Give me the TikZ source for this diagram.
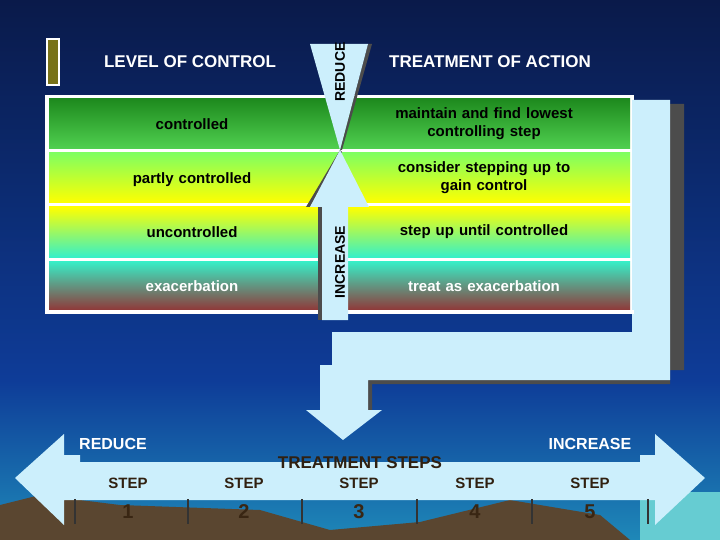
\documentclass[tikz,border=0pt]{standalone}
\usepackage{fontspec}
\setmainfont{Liberation Sans}
\begin{document}
\begin{tikzpicture}[x=1pt,y=-1pt,
  hdr/.style={text=white,font=\bfseries\fontsize{17}{19}\selectfont},
  cell/.style={font=\bfseries\fontsize{15}{18}\selectfont,align=center,text width=260},
  stp/.style={text=black!75!brown,font=\bfseries\fontsize{15}{17}\selectfont},
  num/.style={text=black!70!brown,font=\bfseries\fontsize{20}{22}\selectfont},
  tick/.style={draw=black!80,line width=2pt},
  cy/.style={fill=cyan!20}]
\definecolor{navy}{HTML}{0A1A4A}\definecolor{midb}{HTML}{0E3C98}
\definecolor{teal2}{HTML}{1E88B8}\definecolor{ground}{HTML}{5A4630}
\definecolor{dg}{HTML}{1E8A1E}\definecolor{lg}{HTML}{50D050}
\definecolor{lg2}{HTML}{80FF60}\definecolor{aq}{HTML}{36F0C8}\definecolor{dr}{HTML}{903838}
\useasboundingbox (0,0) rectangle (720,540);
\shade[top color=navy,bottom color=midb] (0,0) rectangle (720,380);
\shade[top color=midb,bottom color=teal2] (0,380) rectangle (720,540);
\fill[cyan!70!green!60] (640,492) rectangle (720,540);
\fill[ground] (0,505) -- (40,495) -- (120,505) -- (260,510) -- (330,530) -- (420,522) -- (510,500) -- (600,515) -- (630,540) -- (0,540) -- cycle;
\node[draw=white,line width=1.5pt,fill=olive!80!black,minimum width=12,minimum height=46,inner sep=0] (bar) at (53,62) {};
\node[hdr] (h1) at (190,62) {LEVEL OF CONTROL};
\node[hdr] (h2) at (490,62) {TREATMENT OF ACTION};
\fill[white] (45,95) rectangle (634,314);
\shade[top color=dg,bottom color=lg] (49,99) rectangle (630,149);
\shade[top color=lg2,bottom color=yellow] (49,153) rectangle (630,203);
\shade[top color=yellow,bottom color=aq] (49,207) rectangle (630,257);
\shade[top color=aq,bottom color=dr] (49,261) rectangle (630,310);
\fill[black!70] (636,104) -- (684,104) -- (684,370) -- (670,370) -- (670,384) -- (372,384) -- (372,414) -- (368,414) -- (368,380) -- (670,380) -- (670,104) -- cycle;
\fill[cy] (632,100) -- (670,100) -- (670,380) -- (368,380) -- (368,410) -- (382,410) -- (343,440) -- (306,410) -- (320,410) -- (320,365) -- (332,365) -- (332,332) -- (632,332) -- cycle;
\fill[white] (45,310) rectangle (634,314);
\fill[black!70] (368,44) -- (372,44) -- (342,150) -- (340,150) -- cycle;
\fill[cy] (310,44) -- (368,44) -- (340,150) -- cycle;
\fill[black!70] (340,150) -- (306,207) -- (310,207) -- (342,152) -- cycle;
\fill[black!70] (318,207) rectangle (322,320);
\fill[cy] (340,150) -- (369,207) -- (348,207) -- (348,320) -- (322,320) -- (322,207) -- (310,207) -- cycle;
\node[rotate=90,font=\bfseries\fontsize{14}{16}\selectfont] (red) at (340,72) {REDUCE};
\node[rotate=90,font=\bfseries\fontsize{14}{16}\selectfont] (inc) at (340,262) {INCREASE};
\node[cell] (c1) at (192,124) {controlled};
\node[cell] (c2) at (192,180) {partly controlled};
\node[cell] (c3) at (192,232) {uncontrolled};
\node[cell,text=white] (c4) at (192,286) {exacerbation};
\node[cell] (t1) at (484,124) {maintain and find lowest\\controlling step};
\node[cell] (t2) at (484,178) {consider stepping up to\\gain control};
\node[cell] (t3) at (484,232) {step up until controlled};
\node[cell,text=white] (t4) at (484,286) {treat as exacerbation};
\fill[cy] (15,478) -- (64,434) -- (64,455) -- (80,455) -- (80,462) -- (640,462) -- (640,455) -- (655,455) -- (655,434) -- (705,478) -- (655,525) -- (655,500) -- (64,500) -- (64,525) -- cycle;
\node[font=\bfseries\fontsize{16}{18}\selectfont,text=white] (rd) at (113,444) {REDUCE};
\node[font=\bfseries\fontsize{16}{18}\selectfont,text=white] (ic) at (590,444) {INCREASE};
\node[stp,font=\bfseries\fontsize{17}{19}\selectfont] (ts) at (360,463) {TREATMENT STEPS};
\foreach \x [count=\i] in {75,188,302,417,532,648} \draw[tick] (\x,499) -- (\x,524) coordinate (k\i);
\foreach \x [count=\i] in {128,244,359,475,590} {
  \node[stp] (s\i) at (\x,483) {STEP};
  \node[num] (n\i) at (\x,512) {\i};
}
\end{tikzpicture}
\end{document}
